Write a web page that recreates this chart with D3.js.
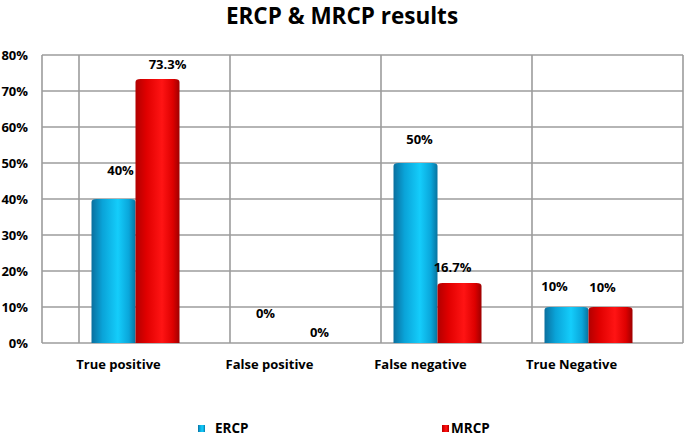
<!DOCTYPE html>
<html><head><meta charset="utf-8">
<script src="https://cdn.jsdelivr.net/npm/d3@7"></script>
<style>body{margin:0;background:#fff;}svg{display:block;}svg text{font-family:"Open Sans",sans-serif;font-weight:700;}</style>
</head><body>
<script>
const categories = ["True positive","False positive","False negative","True Negative"];
const seriesNames = ["ERCP","MRCP"];
const ercp = [40, 0, 50, 10];
const mrcp = [73.3, 0, 16.7, 10];
const ercpLabels = ["40%","0%","50%","10%"];
const mrcpLabels = ["73.3%","0%","16.7%","10%"];
const yTicks = [0,10,20,30,40,50,60,70,80];

// label nudges (style, relative to default position above bar top)
const ercpNudge = [[7,-14],[1,-15],[4,-9],[-12,-6]];
const mrcpNudge = [[10,0],[11,4],[-7,-1],[-8,-5]];

const W = 685, H = 437;
const svg = d3.select("body").append("svg").attr("width",W).attr("height",H);
const defs = svg.append("defs");
function grad(id, stops){
  const g = defs.append("linearGradient").attr("id",id).attr("x1","0").attr("x2","1").attr("y1","0").attr("y2","0");
  stops.forEach(s=>g.append("stop").attr("offset",s[0]).attr("stop-color",s[1]));
}
grad("gE",[[0,"#0a6f9e"],[0.25,"#0aa3d8"],[0.6,"#14cdfb"],[0.85,"#0aa6da"],[1,"#08739f"]]);
grad("gM",[[0,"#b20000"],[0.25,"#e00000"],[0.6,"#ff1414"],[0.85,"#dd0000"],[1,"#9e0000"]]);

const pLeft = 42, pRight = 683, pTop = 55, pBottom = 343;
const x = d3.scaleBand().domain(categories).range([42, 646]).paddingInner(0).paddingOuter(0);
const y = d3.scaleLinear().domain([0,80]).range([pBottom, pTop]);
const depth = 37, shift = 18, bw = 44;

// gridlines
const grid = svg.append("g").attr("stroke","#9c9c9c").attr("stroke-width",1.6);
yTicks.forEach(t=>grid.append("line").attr("x1",pLeft).attr("x2",pRight).attr("y1",y(t)).attr("y2",y(t)));
categories.forEach((c,i)=>grid.append("line").attr("x1",x(c)+depth).attr("x2",x(c)+depth).attr("y1",pTop).attr("y2",pBottom));
grid.append("line").attr("x1",pRight).attr("x2",pRight).attr("y1",pTop).attr("y2",pBottom);
grid.append("line").attr("x1",pLeft).attr("x2",pLeft).attr("y1",pTop).attr("y2",pBottom);

// y axis labels
const yAxis = d3.axisLeft(y).tickValues(yTicks).tickFormat(d=>d+"%").tickSize(0).tickPadding(14);
const ya = svg.append("g").attr("transform",`translate(${pLeft},0)`).call(yAxis);
ya.select(".domain").remove();
ya.selectAll("text").attr("font-size",13).attr("font-family",null).attr("fill","#000");

// x axis labels
const xAxis = d3.axisBottom(x).tickSize(0).tickPadding(17);
const xa = svg.append("g").attr("transform",`translate(1,${pBottom})`).call(xAxis);
xa.select(".domain").remove();
xa.selectAll("text").attr("font-size",13).attr("font-family",null).attr("fill","#000");

// bars
function bars(vals, fill, off){
  svg.append("g").selectAll("path").data(vals).join("path")
    .attr("d",(v,i)=>{
      if(v<=0) return "";
      const x0 = x(categories[i]) + x.bandwidth()/2 + shift + off;
      const y0 = y(v), r=3;
      return `M${x0},${pBottom} L${x0},${y0+r} Q${x0},${y0} ${x0+r+2},${y0} L${x0+bw-r-2},${y0} Q${x0+bw},${y0} ${x0+bw},${y0+r} L${x0+bw},${pBottom} Z`;
    })
    .attr("fill",fill);
}
bars(ercp,"url(#gE)",-bw);
bars(mrcp,"url(#gM)",0);

// data labels
function labels(vals, texts, off, nudge){
  svg.append("g").selectAll("text").data(vals).join("text")
    .attr("x",(v,i)=>x(categories[i]) + x.bandwidth()/2 + shift + off + bw/2 + nudge[i][0])
    .attr("y",(v,i)=>y(v) - 10 + nudge[i][1])
    .attr("text-anchor","middle").attr("font-size",13).attr("fill","#000")
    .text((v,i)=>texts[i]);
}
labels(ercp, ercpLabels, -bw, ercpNudge);
labels(mrcp, mrcpLabels, 0, mrcpNudge);

// title
svg.append("text").attr("x",342).attr("y",24).attr("text-anchor","middle").attr("font-size",22.5).attr("fill","#000").text("ERCP & MRCP results");

// legend
const legX = [198, 442];
const legFill = ["url(#gE)","url(#gM)"];
const leg = svg.append("g").selectAll("g").data(seriesNames).join("g").attr("transform",(d,i)=>`translate(${legX[i]},425)`);
leg.append("rect").attr("width",7).attr("height",7).attr("fill",(d,i)=>legFill[i]);
leg.append("text").attr("x",(d,i)=>i===0?17:9).attr("y",7.5).attr("font-size",13.5).attr("fill","#000").text(d=>d);
</script>
</body></html>
